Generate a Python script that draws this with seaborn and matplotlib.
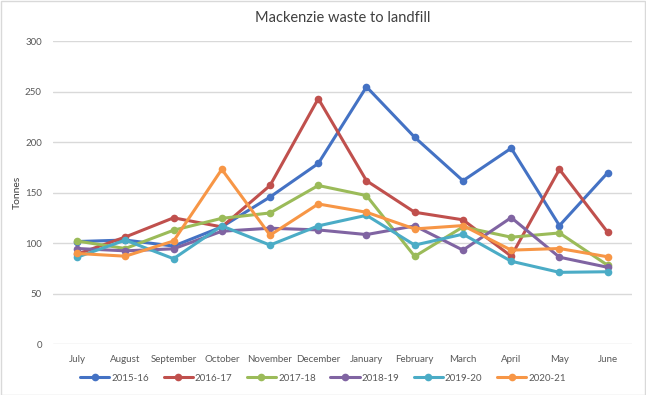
import matplotlib
matplotlib.use("Agg")
import matplotlib.pyplot as plt
import seaborn as sns
import pandas as pd

months = ["July", "August", "September", "October", "November", "December",
          "January", "February", "March", "April", "May", "June"]
s2015_16 = [101.5, 103, 97, 116, 145.6, 178.8, 254.7, 204.7, 161.7, 193.9, 117.3, 169.6]
s2016_17 = [89, 106, 125, 116, 157, 243, 161.7, 130.5, 123, 87, 173, 110.7]
s2017_18 = [102, 94.6, 112.7, 124.5, 129.8, 157, 147, 86.8, 116, 105.8, 110, 78]
s2018_19 = [94.6, 92.3, 94.3, 111.7, 114.7, 113, 108.4, 117, 93, 125.2, 86, 76]
s2019_20 = [86, 102.9, 84.5, 117, 98, 117, 127.5, 98, 108.8, 82, 71, 71.6]
s2020_21 = [89.7, 87, 102, 173, 107.8, 138.7, 130.5, 114, 117.3, 93, 94.6, 86.4]
series_names = ["2015-16", "2016-17", "2017-18", "2018-19", "2019-20", "2020-21"]
series_vals = [s2015_16, s2016_17, s2017_18, s2018_19, s2019_20, s2020_21]
colors = ["#4472C4", "#C0504D", "#9BBB59", "#8064A2", "#4BACC6", "#F79646"]

rows = []
for name, vals in zip(series_names, series_vals):
    for m, v in zip(months, vals):
        rows.append({"Month": m, "Tonnes": v, "Season": name})
df = pd.DataFrame(rows)

sns.set_theme(style="white")
plt.rcParams["font.family"] = ["Lato", "DejaVu Sans"]

fig = plt.figure(figsize=(6.46, 3.95), dpi=100)
ax = fig.add_axes([0.082, 0.129, 0.896, 0.767])

sns.lineplot(data=df, x="Month", y="Tonnes", hue="Season", palette=colors,
             marker="o", markersize=5.5, markeredgewidth=0, linewidth=2.2,
             sort=False, ax=ax)

ax.set_xlim(-0.5, 11.5)
ax.set_ylim(0, 300)
ax.set_yticks(range(0, 301, 50))
ax.yaxis.grid(True, color="#D9D9D9", linewidth=1)
ax.set_axisbelow(True)
for sp in ax.spines.values():
    sp.set_visible(False)
ax.tick_params(axis="both", length=0, labelsize=7, colors="#595959", pad=8)
ax.set_xlabel("")
ax.set_ylabel("Tonnes", fontsize=7.5, color="#404040", labelpad=2)
ax.set_title("Mackenzie waste to landfill", fontsize=10.5, color="#404040", pad=14)

handles, labels = ax.get_legend_handles_labels()
ax.legend_.remove()
fig.legend(handles, labels, loc="center", bbox_to_anchor=(0.5, 0.043), ncol=6,
           frameon=False, fontsize=7, labelcolor="#595959", handlelength=3,
           handletextpad=0.2, columnspacing=1.5)

fig.patches.append(plt.Rectangle((0.001, 0.001), 0.997, 0.997, transform=fig.transFigure,
                                 fill=False, edgecolor="#D9D9D9", linewidth=1))
fig.savefig("out.png", dpi=100)
